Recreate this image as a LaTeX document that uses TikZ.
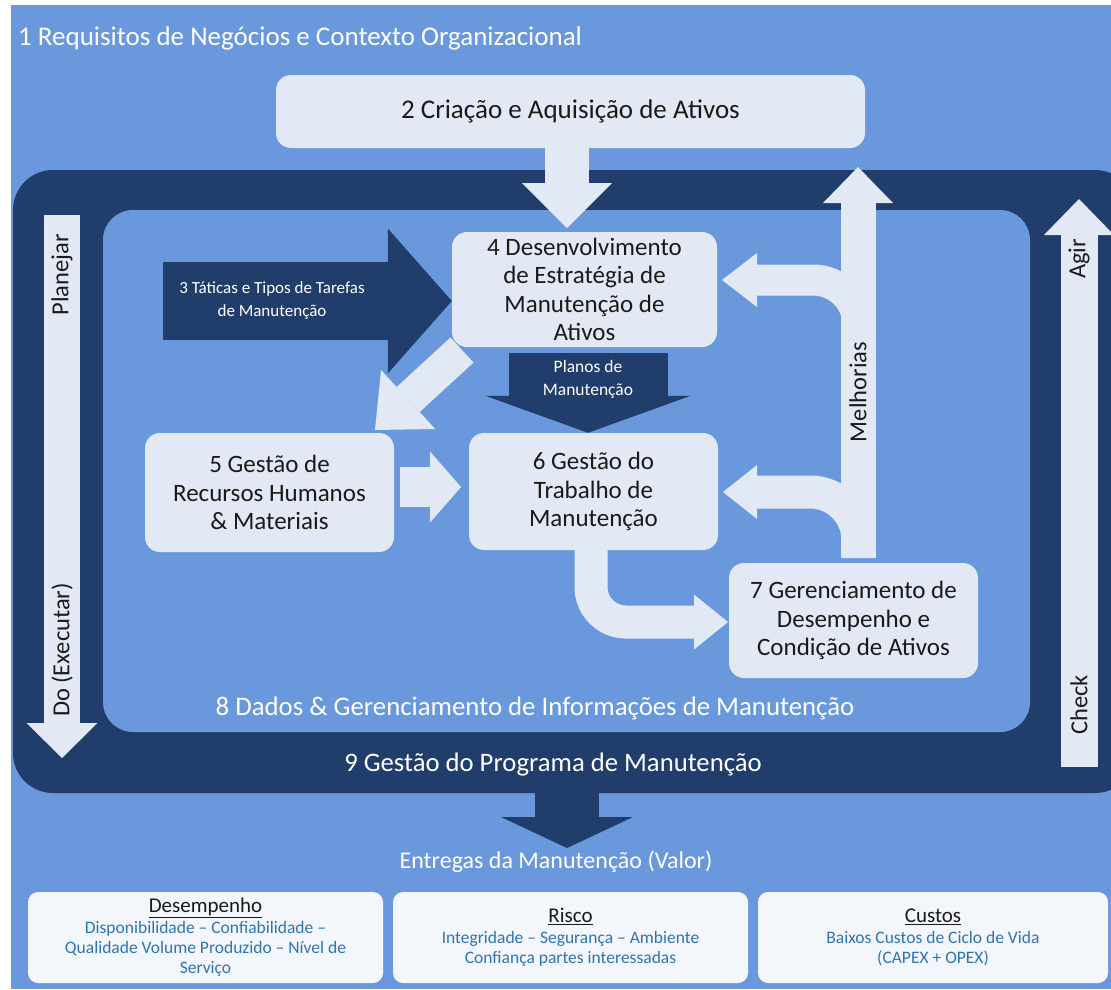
\documentclass[tikz,border=0pt]{standalone}
\usepackage{fontspec}
\setmainfont{Carlito}
\usetikzlibrary{arrows.meta,positioning}
\definecolor{bgblue}{HTML}{6A98DC}
\definecolor{navy}{HTML}{203D6B}
\definecolor{pale}{HTML}{E2E9F4}
\definecolor{paler}{HTML}{F3F6FB}
\definecolor{txtblue}{HTML}{2E74B5}
\definecolor{boxtxt}{HTML}{1A1A1A}
\tikzset{
  lbox/.style={fill=pale, rounded corners=15, align=center, inner sep=0pt,
    text=boxtxt, font=\fontsize{25}{28.5}\selectfont},
  dbox/.style={fill=paler, rounded corners=10, align=center, inner sep=0pt,
    text=txtblue, font=\fontsize{17.5}{20}\selectfont},
  blk/.style n args={4}{draw=#1, line width=#2pt,
    -{Triangle[length=#3pt,width=#4pt,line width=0pt]}},
  wtext/.style={text=white, inner sep=0pt},
  vlabel/.style={rotate=90, inner sep=0pt, text=boxtxt,
    font=\fontsize{24.5}{28}\selectfont},
}
\begin{document}
\begin{tikzpicture}[x=1pt,y=-1pt]
  \useasboundingbox (0,0) rectangle (1111,989);
  \fill[white] (0,0) rectangle (1111,989);
  \fill[bgblue] (11,5) rectangle (1111,989);
  % 9 programa / 8 dados
  \fill[navy, rounded corners=40] (13,170) rectangle (1135,793);
  \fill[bgblue, rounded corners=30] (103,210) rectangle (1030,732);

  \node[wtext, anchor=west, font=\fontsize{27}{30}\selectfont] (t1) at (18,38)
    {1 Requisitos de Negócios e Contexto Organizacional};

  % caixas
  \node[lbox, minimum width=589, minimum height=73, font=\fontsize{27}{30}\selectfont]
    (b2) at (570.5,111.5) {2 Criação e Aquisição de Ativos};
  \node[lbox, minimum width=265, minimum height=115] (b4) at (584.5,289.5)
    {4 Desenvolvimento\\de Estratégia de\\Manutenção de\\Ativos};
  \node[lbox, minimum width=249, minimum height=119] (b5) at (269.5,492.5)
    {5 Gestão de\\Recursos Humanos\\\& Materiais};
  \node[lbox, minimum width=249, minimum height=117] (b6) at (593.5,491.5)
    {6 Gestão do\\Trabalho de\\Manutenção};
  \node[lbox, minimum width=249, minimum height=115] (b7) at (853.5,620.5)
    {7 Gerenciamento de\\Desempenho e\\Condição de Ativos};

  % pontos das setas
  \coordinate (t4) at (567,228);
  \coordinate (a3) at (163,301);
  \coordinate (pl) at (588,353);
  \coordinate (d4) at (462,350);
  \coordinate (d5) at (375,430);
  \coordinate (s5) at (400,487);
  \coordinate (s6) at (461,487);
  \coordinate (s7) at (728,622);
  \coordinate (mb) at (858,558);
  \coordinate (mt) at (858,167);
  \coordinate (mu) at (858,345);
  \coordinate (pq) at (62,215);
  \coordinate (do) at (62,758);
  \coordinate (ck) at (1079,767);
  \coordinate (ag) at (1079,199);
  \coordinate (e9) at (567,793);
  \coordinate (en) at (567,848);

  % setas
  \draw[blk={pale}{44}{45}{90}] (b2.south -| t4) -- (t4);
  \draw[blk={navy}{78}{64}{145}] (a3) -- (b4.west |- a3);
  \draw[blk={navy}{159}{37}{205}] (pl) -- (pl |- b6.north);
  \draw[blk={pale}{34}{45}{80}] (d4) -- (d5);
  \draw[blk={pale}{40}{31}{71}] (s5) -- (s6);
  \draw[blk={pale}{33}{34}{55}, rounded corners=35] (591,550) |- (s7);
  \draw[blk={pale}{35}{36}{70}] (mb) -- (mt);
  \draw[blk={pale}{31}{35}{54}, rounded corners=45] (mu) |- (722,280);
  \draw[blk={pale}{33}{34}{54}, rounded corners=48] (mb) |- (723,492);
  \draw[blk={pale}{36}{35}{71}] (pq) -- (do);
  \draw[blk={pale}{37}{36}{70}] (ck) -- (ag);
  \draw[blk={navy}{64}{31}{132}] (e9) -- (en);

  % textos
  \node[wtext, align=center, font=\fontsize{17}{23}\selectfont] (t3) at (272,301)
    {3 Táticas e Tipos de Tarefas\\de Manutenção};
  \node[wtext, align=center, font=\fontsize{17.5}{23}\selectfont] (tp) at (588,379)
    {Planos de\\Manutenção};
  \node[vlabel] (mel) at (858,392) {Melhorias};
  \node[vlabel] (plj) at (62,275) {Planejar};
  \node[vlabel] (exe) at (62,650) {Do (Executar)};
  \node[vlabel] (agi) at (1079,259) {Agir};
  \node[vlabel] (chk) at (1079,705) {Check};
  \node[wtext, font=\fontsize{26.8}{30}\selectfont] (t8) at (535,708)
    {8 Dados \& Gerenciamento de Informações de Manutenção};
  \node[wtext, font=\fontsize{26.7}{30}\selectfont] (t9) at (553,765)
    {9 Gestão do Programa de Manutenção};
  \node[wtext, font=\fontsize{24}{28}\selectfont] (ent) at (556,862)
    {Entregas da Manutenção (Valor)};

  % entregas
  \node[dbox, minimum width=355, minimum height=91] (de) at (205.5,937.5)
    {\textcolor{boxtxt}{\fontsize{21}{22}\selectfont\underline{Desempenho}}\\[1pt]
     Disponibilidade – Confiabilidade –\\Qualidade Volume Produzido – Nível de\\Serviço};
  \node[dbox, minimum width=355, minimum height=91] (ri) at (570.5,937.5)
    {\textcolor{boxtxt}{\fontsize{21}{22}\selectfont\underline{Risco}}\\[1pt]
     Integridade – Segurança – Ambiente\\Confiança partes interessadas};
  \node[dbox, minimum width=350, minimum height=91] (cu) at (933,937.5)
    {\textcolor{boxtxt}{\fontsize{21}{22}\selectfont\underline{Custos}}\\[1pt]
     Baixos Custos de Ciclo de Vida\\(CAPEX + OPEX)};
\end{tikzpicture}
\end{document}
